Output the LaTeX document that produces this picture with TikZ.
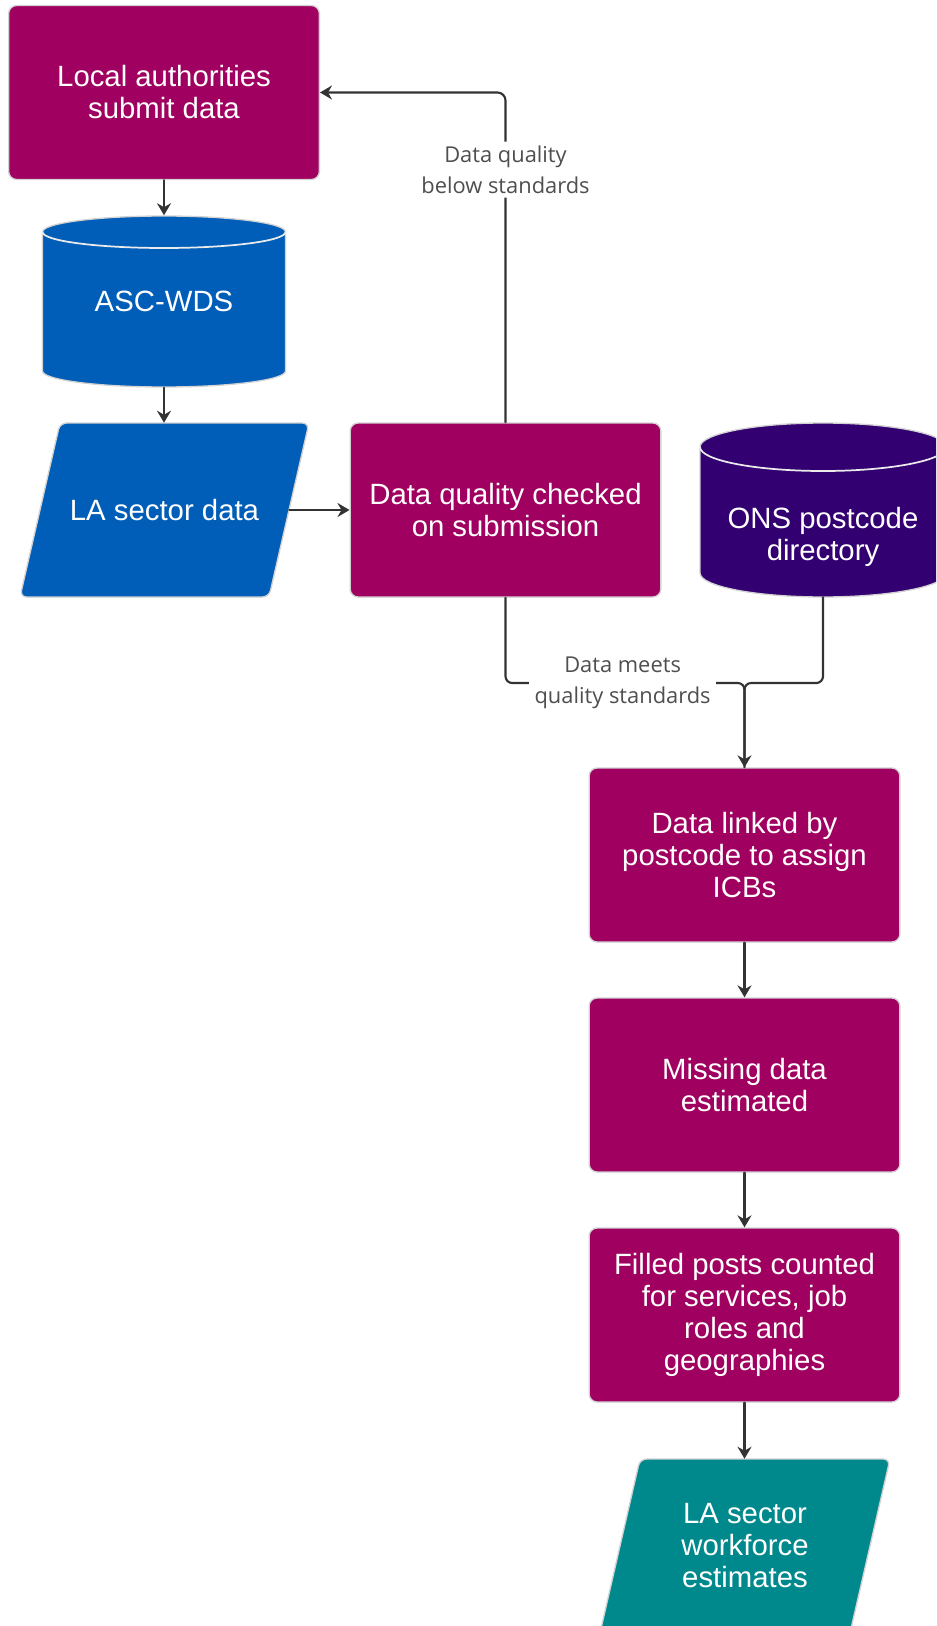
\documentclass[tikz,border=0pt]{standalone}
\usepackage{fontspec}
\setmainfont{Liberation Sans}
\newfontfamily\opensans{Open Sans}
\usetikzlibrary{arrows.meta}
\definecolor{lamagenta}{HTML}{A00060}
\definecolor{lablue}{HTML}{005EB8}
\definecolor{lapurple}{HTML}{330072}
\definecolor{lateal}{HTML}{00898C}
\definecolor{edgegrey}{HTML}{D2D2D2}
\definecolor{linegrey}{HTML}{333333}
\definecolor{labelgrey}{HTML}{4F4F4F}
\begin{document}
\begin{tikzpicture}[x=0.75pt, y=-0.75pt, line join=round, line cap=round, >={Stealth[length=9pt,width=10.5pt,inset=3pt]},
		txt/.style={text=white, align=center, font=\fontsize{22}{24}\selectfont, inner sep=0pt},
		procbox/.style={txt, fill=lamagenta, draw=edgegrey, line width=1pt, rounded corners=6pt, minimum width=233pt, minimum height=130.5pt},
		holder/.style={txt, minimum height=130.5pt},
		shapeedge/.style={draw=edgegrey, line width=1pt},
		conn/.style={draw=linegrey, line width=1.6pt},
		lbl/.style={fill=white, text=labelgrey, align=center, inner xsep=4pt, inner ysep=3pt, font=\opensans\fontsize{16.4}{23.3}\selectfont}]
		\path[use as bounding box, clip] (0,0) rectangle (936,1626);
		% stores and data shapes
		\fill[lablue, shapeedge] (42.5,232) arc[start angle=180, end angle=360, x radius=121.5, y radius=16] -- (285.5,371) arc[start angle=0, end angle=180, x radius=121.5, y radius=16] -- cycle;
		\draw[white!92!black, line width=1.3pt] (42.5,232) arc[start angle=180, end angle=0, x radius=121.5, y radius=16];
		\fill[lapurple, shapeedge] (700,447) arc[start angle=180, end angle=360, x radius=123, y radius=24] -- (946,573) arc[start angle=0, end angle=180, x radius=123, y radius=24] -- cycle;
		\draw[white!92!black, line width=1.3pt] (700,447) arc[start angle=180, end angle=0, x radius=123, y radius=24];
		\fill[lablue, shapeedge, rounded corners=5pt] (60,423) -- (309,423) -- (269,597) -- (20,597) -- cycle;
		\fill[lateal, shapeedge, rounded corners=5pt] (640,1459) -- (890,1459) -- (850,1633) -- (600,1633) -- cycle;
		% nodes
		\node[procbox] (submit) at (164,92.5) {Local authorities\\submit data};
		\node[holder, minimum width=182pt, minimum height=129pt] (ascwds) at (164,301.5) {ASC-WDS};
		\node[holder, minimum width=186.75pt] (lasec) at (164.5,510) {LA sector data};
		\node[procbox] (dq) at (505.5,510) {Data quality checked\\on submission};
		\node[holder, minimum width=184.5pt] (ons) at (823,510) {};
		\node[txt] (onstxt) at (823,537) {ONS postcode\\directory};
		\node[procbox] (link) at (744.5,855) {Data linked by\\postcode to assign\\ICBs};
		\node[procbox] (miss) at (744.5,1085) {Missing data\\estimated};
		\node[procbox] (filled) at (744.5,1315) {Filled posts counted\\for services, job\\roles and\\geographies};
		\node[holder, minimum width=187.5pt] (estim) at (745,1546) {LA sector\\workforce\\estimates};
		\coordinate (join) at (744.5,683);
		% connectors
		\draw[conn, ->] (submit.south) -- (ascwds.north);
		\draw[conn, ->] (ascwds.south) -- (ascwds.south |- lasec.north);
		\draw[conn, ->] (lasec.east) -- (dq.west);
		\draw[conn, ->, rounded corners=6pt] (dq.north) |- node[lbl, pos=0.383] {Data quality\\below standards} (submit.east);
		\draw[conn, rounded corners=5pt] (ons.south) |- (join) -- (link.north);
		\draw[conn, ->, rounded corners=5pt] (dq.south) |- node[lbl, pos=0.745] {Data meets\\quality standards} (join) -- (link.north);
		\draw[conn, ->] (link.south) -- (miss.north);
		\draw[conn, ->] (miss.south) -- (filled.north);
		\draw[conn, ->] (filled.south) -- (filled.south |- estim.north);
\end{tikzpicture}
\end{document}
